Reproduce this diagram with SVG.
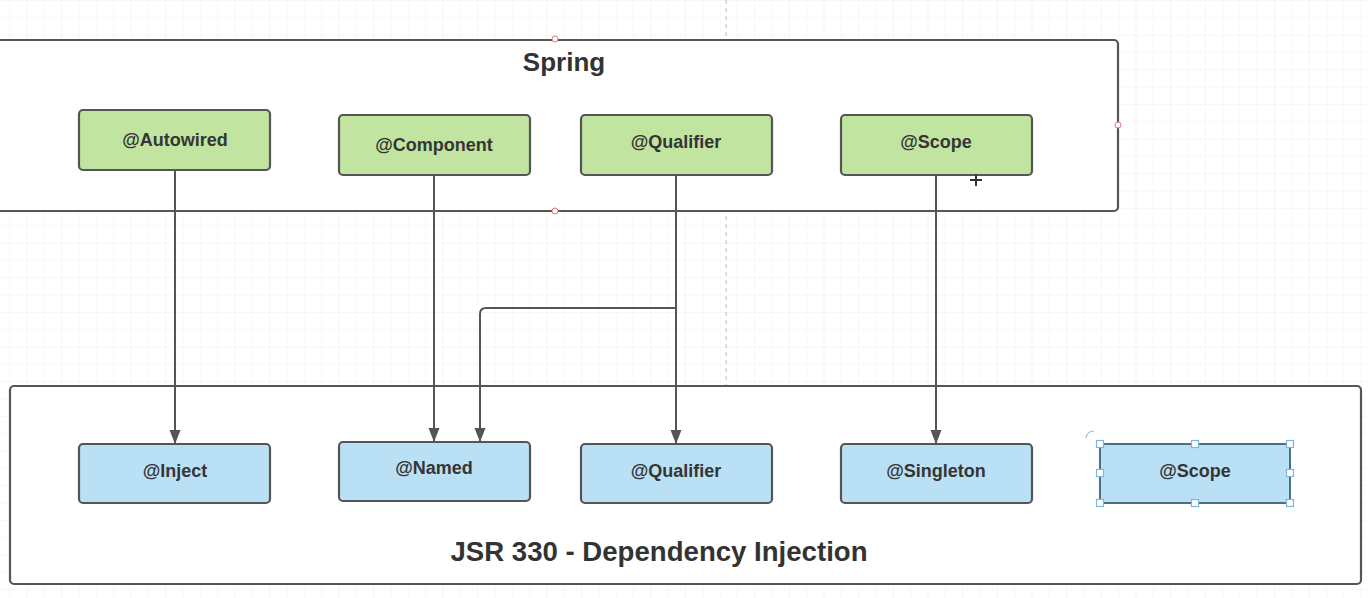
<svg xmlns="http://www.w3.org/2000/svg" width="1368" height="598" viewBox="0 0 1368 598">
<style>
.container{fill:#ffffff;stroke:#555555;stroke-width:2.2}
.green{fill:#c1e4a1;stroke:#555555;stroke-width:2.2}
.blue{fill:#bae0f5;stroke:#555555;stroke-width:2.2}
.sel{fill:#bae0f5;stroke:#4d6f86;stroke-width:2}
.lbl{font-family:"Liberation Sans",Arial,sans-serif;font-weight:bold;font-size:18px;fill:#353535;text-anchor:middle;dominant-baseline:central}
.title{font-family:"Liberation Sans",Arial,sans-serif;font-weight:bold;fill:#333333;text-anchor:middle}
.conn{fill:none;stroke:#555555;stroke-width:2}
.handle{fill:#ffffff;stroke:#7fb6dc;stroke-width:1.2}
.port{fill:#ffffff;stroke:#e07a7a;stroke-width:1}
</style>
<defs>
<pattern id="grid" x="10" y="1" width="17.33" height="17.33" patternUnits="userSpaceOnUse">
<path d="M17.33 0V17.33M0 17.33H17.33" fill="none" stroke="#efefef" stroke-width="1"/>
</pattern>
<marker id="arrow" viewBox="0 0 14 12" refX="13" refY="6" markerWidth="14" markerHeight="12" markerUnits="userSpaceOnUse" orient="auto">
<path d="M0 0.5L14 6L0 11.5Z" fill="#555555"/>
</marker>
</defs>
<rect width="1368" height="598" fill="#ffffff"/>
<rect width="1368" height="598" fill="url(#grid)"/>
<line x1="726" y1="0" x2="726" y2="386" stroke="#c8c8c8" stroke-width="1.2" stroke-dasharray="4 4"/>

<g id="spring">
<rect class="container" x="-10" y="40" width="1128" height="171" rx="4"/>
<text class="title" x="564" y="71" font-size="26">Spring</text>
<circle class="port" cx="555" cy="39" r="3"/>
<circle class="port" cx="555" cy="211" r="3"/>
<circle class="port" cx="1118" cy="125" r="3"/>
</g>

<g id="jsr330">
<rect class="container" x="10" y="386" width="1351" height="198" rx="4"/>
<text class="title" x="659" y="561" font-size="27.6">JSR 330 - Dependency Injection</text>
</g>

<g id="connectors">
<line class="conn" x1="175" y1="170" x2="175" y2="443" marker-end="url(#arrow)"/>
<line class="conn" x1="434" y1="175" x2="434" y2="441" marker-end="url(#arrow)"/>
<line class="conn" x1="676" y1="175" x2="676" y2="443" marker-end="url(#arrow)"/>
<path class="conn" d="M676 308H486Q480 308 480 314V441" marker-end="url(#arrow)"/>
<line class="conn" x1="936" y1="175" x2="936" y2="443" marker-end="url(#arrow)"/>
</g>

<g id="spring-autowired">
<rect class="green" x="79" y="110" width="191" height="60" rx="4"/>
<text class="lbl" x="175" y="140" font-size="17.5">@Autowired</text>
</g>
<g id="spring-component">
<rect class="green" x="339" y="115" width="191" height="60" rx="4"/>
<text class="lbl" x="434" y="145" font-size="17.5">@Component</text>
</g>
<g id="spring-qualifier">
<rect class="green" x="581" y="115" width="191" height="60" rx="4"/>
<text class="lbl" x="676" y="142">@Qualifier</text>
</g>
<g id="spring-scope">
<rect class="green" x="841" y="115" width="191" height="60" rx="4"/>
<text class="lbl" x="936" y="142">@Scope</text>
</g>

<g id="jsr-inject">
<rect class="blue" x="79" y="444" width="191" height="59" rx="4"/>
<text class="lbl" x="175" y="471">@Inject</text>
</g>
<g id="jsr-named">
<rect class="blue" x="339" y="442" width="191" height="59" rx="4"/>
<text class="lbl" x="434" y="468">@Named</text>
</g>
<g id="jsr-qualifier">
<rect class="blue" x="581" y="444" width="191" height="59" rx="4"/>
<text class="lbl" x="676" y="471">@Qualifier</text>
</g>
<g id="jsr-singleton">
<rect class="blue" x="841" y="444" width="191" height="59" rx="4"/>
<text class="lbl" x="936" y="471">@Singleton</text>
</g>
<g id="jsr-scope">
<rect class="sel" x="1100" y="444" width="190" height="59"/>
<text class="lbl" x="1195" y="471">@Scope</text>
<rect class="handle" x="1096.5" y="440.5" width="7" height="7"/>
<rect class="handle" x="1191.5" y="440.5" width="7" height="7"/>
<rect class="handle" x="1286.5" y="440.5" width="7" height="7"/>
<rect class="handle" x="1096.5" y="469.5" width="7" height="7"/>
<rect class="handle" x="1286.5" y="469.5" width="7" height="7"/>
<rect class="handle" x="1096.5" y="499.5" width="7" height="7"/>
<rect class="handle" x="1191.5" y="499.5" width="7" height="7"/>
<rect class="handle" x="1286.5" y="499.5" width="7" height="7"/>
<path d="M1086 438Q1087 431 1094 431" fill="none" stroke="#9bbfd8" stroke-width="1.2"/>
</g>

<g id="cursor" stroke="#333333" stroke-width="2">
<line x1="976" y1="174" x2="976" y2="186"/>
<line x1="970" y1="180" x2="982" y2="180"/>
</g>
</svg>
